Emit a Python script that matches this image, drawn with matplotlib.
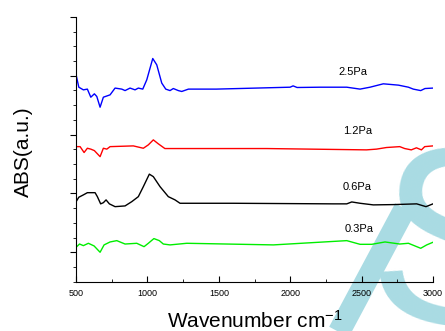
import numpy as np
import matplotlib
matplotlib.use('Agg')
import matplotlib.pyplot as plt
from matplotlib.lines import Line2D
from matplotlib.ticker import MultipleLocator, NullFormatter

plt.rcParams['font.family'] = ['Liberation Sans', 'DejaVu Sans']
plt.rcParams['mathtext.default'] = 'regular'

# wavenumber / absorbance (offset)
wn_25 = [500, 519, 551, 579, 603, 628, 645, 668, 691, 738, 773, 820, 843, 878, 913, 936, 967,
         995, 1037, 1065, 1100, 1128, 1158, 1181, 1216, 1240, 1287, 1482, 1999, 2020, 2048,
         2209, 2396, 2489, 2559, 2652, 2758, 2828, 2862, 2914, 2944, 3000]
abs_25 = [14.06, 13.22, 13.04, 13.09, 12.54, 12.77, 12.59, 11.86, 12.54, 12.70, 13.16, 13.09,
          12.99, 13.16, 13.04, 13.16, 13.09, 13.72, 15.17, 14.74, 13.50, 13.09, 12.99, 13.13,
          12.99, 12.93, 13.09, 13.09, 13.22, 13.31, 13.20, 13.22, 13.22, 13.09, 13.22, 13.45,
          13.36, 13.22, 13.09, 12.99, 13.13, 13.16]

wn_12 = [500, 528, 556, 579, 603, 628, 668, 691, 715, 738, 901, 971, 1006, 1041, 1076, 1122,
         1834, 2534, 2604, 2674, 2767, 2802, 2848, 2884, 2919, 2942, 3000]
abs_12 = [9.18, 9.18, 8.78, 9.07, 9.01, 8.91, 8.50, 9.07, 9.01, 9.18, 9.23, 9.07, 9.30, 9.64,
          9.37, 9.05, 9.05, 8.96, 9.01, 9.12, 9.18, 9.05, 8.96, 9.10, 8.96, 9.18, 9.23]

wn_06 = [500, 519, 551, 579, 633, 649, 672, 691, 710, 733, 773, 843, 890, 936, 971, 1013,
         1041, 1088, 1146, 1193, 1228, 1601, 2301, 2396, 2431, 2489, 2582, 2722, 2886, 2951, 3000]
abs_06 = [5.44, 5.74, 5.90, 6.05, 6.05, 5.78, 5.29, 5.37, 5.56, 5.29, 5.10, 5.15, 5.44, 5.78,
          6.46, 7.31, 7.14, 6.46, 5.78, 5.56, 5.33, 5.33, 5.29, 5.29, 5.42, 5.33, 5.22, 5.24,
          5.29, 5.10, 5.29]

wn_03 = [500, 524, 551, 586, 626, 668, 696, 738, 785, 843, 925, 976, 1006, 1045, 1083, 1111,
         1158, 1275, 1882, 2396, 2489, 2571, 2664, 2767, 2828, 2914, 2956, 3000]
abs_03 = [2.34, 2.56, 2.45, 2.61, 2.43, 2.00, 2.50, 2.70, 2.79, 2.56, 2.61, 2.38, 2.61, 2.93,
          2.79, 2.56, 2.50, 2.61, 2.50, 2.79, 2.54, 2.54, 2.70, 2.56, 2.61, 2.27, 2.50, 2.68]

labels = ['2.5Pa', '1.2Pa', '0.6Pa', '0.3Pa']
label_x = [2440, 2470, 2470, 2484]
label_y = [14.24, 10.27, 6.46, 3.61]

fig = plt.figure(figsize=(4.45, 3.31), dpi=100)
ax = fig.add_axes([0.171, 0.149, 0.802, 0.8])
ax.patch.set_visible(False)

# watermark (big pale letters behind the plot)
wm_color = '#a9dbe3'
fig.text(1.02, 0.215, 'S', fontsize=180, color=wm_color, rotation=-8,
         ha='center', va='center', zorder=-2)
fig.add_artist(Line2D([0.755, 0.91], [-0.02, 0.37], color=wm_color, lw=16,
                      solid_capstyle='butt', zorder=-2))

ax.plot(wn_25, abs_25, color='#0000ff', lw=1)
ax.plot(wn_12, abs_12, color='#ff0000', lw=1)
ax.plot(wn_06, abs_06, color='black', lw=1)
ax.plot(wn_03, abs_03, color='#00ee00', lw=1)

for t, x, y in zip(labels, label_x, label_y):
    ax.text(x, y, t, fontsize=8, ha='center', va='center')

ax.set_xlim(500, 3000)
ax.set_ylim(0, 18)
ax.xaxis.set_major_locator(MultipleLocator(500))
ax.xaxis.set_minor_locator(MultipleLocator(250))
ax.set_yticks([2, 6, 10, 14, 18])
ax.yaxis.set_minor_locator(MultipleLocator(1))
ax.yaxis.set_major_formatter(NullFormatter())
ax.spines['top'].set_visible(False)
ax.spines['right'].set_visible(False)
ax.tick_params(axis='x', which='both', direction='in', labelsize=6.5, pad=5)
ax.tick_params(axis='x', which='major', length=4)
ax.tick_params(axis='x', which='minor', length=2.5)
ax.tick_params(axis='y', which='major', direction='out', length=4)
ax.tick_params(axis='y', which='minor', direction='out', length=2.5)

ax.set_xlabel('Wavenumber cm$^{-1}$', fontsize=15)
ax.xaxis.set_label_coords(0.5, -0.105)
ax.set_ylabel('ABS(a.u.)', fontsize=15)
ax.yaxis.set_label_coords(-0.122, 0.49)

fig.savefig('out.png', dpi=100)
